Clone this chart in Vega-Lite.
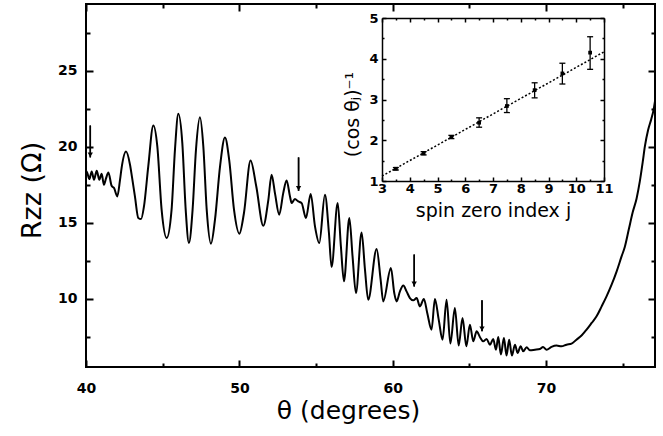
{
  "$schema": "https://vega.github.io/schema/vega-lite/v6.json",
  "width": 569,
  "height": 363,
  "autosize": {"type": "none"},
  "padding": {"left": 86, "top": 4, "right": 8, "bottom": 69},
  "background": "white",
  "config": {
    "view": {"stroke": "black", "strokeWidth": 2},
    "axis": {"grid": false, "domain": false, "tickColor": "black", "labelColor": "black", "titleColor": "black",
      "labelFont": "DejaVu Sans", "titleFont": "DejaVu Sans", "labelFontWeight": "bold", "titleFontWeight": "normal",
      "labelFlush": false, "labelOverlap": false, "labelBound": false}
  },
  "datasets": {
    "curve": [
      {"t":40.0,"r":18.3},{"t":40.04,"r":18.38},{"t":40.22,"r":17.87},{"t":40.37,"r":18.38},{"t":40.52,"r":17.83},{"t":40.7,"r":18.42},{"t":40.87,"r":17.83},{"t":41.02,"r":18.22},{"t":41.17,"r":17.5},{"t":41.3,"r":17.9},{"t":41.46,"r":18.31},{"t":41.67,"r":17.43},{"t":41.83,"r":17.28},{"t":42.04,"r":16.73},{"t":42.22,"r":17.83},{"t":42.32,"r":18.6},{"t":42.61,"r":19.69},{"t":42.87,"r":18.82},{"t":43.0,"r":18.0},{"t":43.19,"r":16.73},{"t":43.41,"r":15.31},{"t":43.59,"r":15.24},{"t":43.78,"r":16.07},{"t":44.06,"r":18.71},{"t":44.39,"r":21.4},{"t":44.65,"r":20.02},{"t":44.93,"r":15.86},{"t":45.26,"r":13.99},{"t":45.58,"r":15.86},{"t":45.8,"r":19.8},{"t":46.02,"r":22.17},{"t":46.28,"r":20.24},{"t":46.5,"r":15.86},{"t":46.71,"r":13.66},{"t":46.95,"r":15.86},{"t":47.17,"r":19.8},{"t":47.43,"r":21.95},{"t":47.65,"r":20.02},{"t":47.87,"r":15.86},{"t":48.15,"r":13.62},{"t":48.41,"r":15.2},{"t":48.74,"r":18.71},{"t":49.06,"r":20.61},{"t":49.34,"r":19.1},{"t":49.65,"r":15.86},{"t":50.0,"r":14.28},{"t":50.3,"r":15.64},{"t":50.73,"r":19.1},{"t":51.1,"r":17.4},{"t":51.56,"r":14.8},{"t":51.89,"r":16.51},{"t":52.1,"r":18.16},{"t":52.32,"r":16.95},{"t":52.6,"r":15.53},{"t":52.86,"r":16.95},{"t":53.08,"r":17.78},{"t":53.3,"r":16.73},{"t":53.41,"r":16.29},{"t":53.62,"r":16.56},{"t":53.84,"r":16.4},{"t":54.06,"r":16.29},{"t":54.34,"r":15.31},{"t":54.65,"r":16.89},{"t":54.93,"r":14.76},{"t":55.21,"r":13.66},{"t":55.58,"r":16.84},{"t":55.84,"r":14.32},{"t":56.01,"r":12.08},{"t":56.41,"r":16.29},{"t":56.62,"r":13.44},{"t":56.82,"r":11.14},{"t":57.17,"r":15.31},{"t":57.38,"r":12.78},{"t":57.6,"r":10.37},{"t":57.97,"r":14.36},{"t":58.19,"r":11.91},{"t":58.4,"r":9.93},{"t":58.95,"r":13.27},{"t":59.21,"r":11.25},{"t":59.38,"r":9.82},{"t":59.88,"r":12.02},{"t":60.1,"r":10.37},{"t":60.25,"r":9.82},{"t":60.47,"r":10.48},{"t":60.69,"r":10.86},{"t":60.9,"r":10.48},{"t":61.12,"r":10.04},{"t":61.34,"r":9.89},{"t":61.56,"r":10.04},{"t":61.77,"r":9.49},{"t":62.03,"r":9.98},{"t":62.25,"r":9.06},{"t":62.53,"r":7.96},{"t":62.75,"r":9.98},{"t":63.0,"r":8.6},{"t":63.25,"r":7.3},{"t":63.51,"r":9.93},{"t":63.76,"r":7.04},{"t":64.05,"r":9.39},{"t":64.3,"r":6.91},{"t":64.55,"r":8.73},{"t":64.8,"r":6.86},{"t":65.03,"r":8.29},{"t":65.25,"r":7.19},{"t":65.47,"r":7.85},{"t":65.68,"r":7.48},{"t":65.9,"r":7.19},{"t":66.12,"r":7.35},{"t":66.34,"r":6.97},{"t":66.55,"r":7.35},{"t":66.73,"r":6.64},{"t":66.88,"r":7.48},{"t":67.05,"r":6.32},{"t":67.25,"r":7.41},{"t":67.42,"r":6.25},{"t":67.59,"r":7.3},{"t":67.77,"r":6.25},{"t":67.97,"r":6.97},{"t":68.14,"r":6.43},{"t":68.34,"r":6.86},{"t":68.51,"r":6.53},{"t":68.73,"r":6.8},{"t":68.94,"r":6.6},{"t":69.27,"r":6.64},{"t":69.6,"r":6.69},{"t":69.8,"r":6.82},{"t":70.03,"r":6.64},{"t":70.35,"r":6.82},{"t":70.68,"r":6.91},{"t":71.0,"r":6.86},{"t":71.33,"r":6.97},{"t":71.66,"r":7.04},{"t":71.98,"r":7.3},{"t":72.31,"r":7.57},{"t":72.64,"r":7.96},{"t":72.97,"r":8.4},{"t":73.29,"r":8.84},{"t":73.62,"r":9.49},{"t":73.94,"r":10.15},{"t":74.27,"r":10.92},{"t":74.6,"r":11.8},{"t":74.92,"r":12.78},{"t":75.13,"r":13.4},{"t":75.4,"r":14.6},{"t":75.65,"r":15.7},{"t":75.9,"r":16.6},{"t":76.11,"r":17.72},{"t":76.3,"r":19.0},{"t":76.44,"r":20.02},{"t":76.65,"r":21.1},{"t":76.85,"r":21.8},{"t":77.0,"r":22.4},{"t":77.1,"r":23.0}
    ],
    "arrows": [
      {"t":40.28,"top":21.4,"tip":19.3},
      {"t":53.86,"top":19.3,"tip":17.1},
      {"t":61.4,"top":12.9,"tip":10.8},
      {"t":65.82,"top":9.9,"tip":7.85}
    ],
    "inset": [
      {"j":3.5,"v":1.3,"lo":1.27,"hi":1.33},
      {"j":4.5,"v":1.68,"lo":1.64,"hi":1.72},
      {"j":5.5,"v":2.08,"lo":2.04,"hi":2.12},
      {"j":6.5,"v":2.43,"lo":2.32,"hi":2.55},
      {"j":7.5,"v":2.84,"lo":2.68,"hi":3.02},
      {"j":8.5,"v":3.23,"lo":3.04,"hi":3.41},
      {"j":9.5,"v":3.64,"lo":3.38,"hi":3.89},
      {"j":10.5,"v":4.15,"lo":3.74,"hi":4.54}
    ],
    "fit": [
      {"j":3,"v":1.12},
      {"j":11,"v":4.17}
    ]
  },
  "layer": [
    {
      "resolve": {"axis": {"x": "independent", "y": "independent"}},
      "layer": [
        {
          "data": {"name": "curve"},
          "mark": {"type": "line", "color": "black", "strokeWidth": 2, "interpolate": "monotone"},
          "encoding": {
            "x": {"field": "t", "type": "quantitative", "scale": {"domain": [40, 77.1], "nice": false, "zero": false},
              "axis": {"orient": "bottom", "values": [40, 50, 60, 70], "tickSize": -7, "tickWidth": 2, "labelPadding": 21, "labelFontSize": 14,
                "title": "θ (degrees)", "titleFontSize": 25, "titleX": 262, "titleY": 51, "titleBaseline": "alphabetic", "titleAlign": "center"}},
            "y": {"field": "r", "type": "quantitative", "scale": {"domain": [5.5, 29.4], "nice": false, "zero": false},
              "axis": {"orient": "left", "values": [10, 15, 20, 25], "tickSize": -7, "tickWidth": 2, "labelPadding": 16, "labelFontSize": 14,
                "title": "Rzz (Ω)", "titleFontSize": 27, "titleX": -46, "titleY": 186, "titleAngle": 270, "titleBaseline": "alphabetic", "titleAlign": "center"}}
          }
        },
        {
          "data": {"name": "arrows"},
          "mark": {"type": "rule", "color": "black", "strokeWidth": 1.5},
          "encoding": {
            "x": {"field": "t", "type": "quantitative", "axis": {"orient": "bottom", "values": [45, 55, 65, 75], "tickSize": -4, "tickWidth": 2, "labels": false, "title": null}},
            "y": {"field": "top", "type": "quantitative", "axis": {"orient": "left", "values": [7.5, 12.5, 17.5, 22.5, 27.5], "tickSize": -4, "tickWidth": 2, "labels": false, "title": null}},
            "y2": {"field": "tip"}
          }
        },
        {
          "data": {"name": "arrows"},
          "mark": {"type": "point", "shape": "triangle-down", "filled": true, "color": "black", "opacity": 1, "size": 28, "yOffset": -2.6},
          "encoding": {
            "x": {"field": "t", "type": "quantitative", "axis": {"orient": "top", "values": [40, 50, 60, 70], "tickSize": -7, "tickWidth": 2, "labels": false, "title": null}},
            "y": {"field": "tip", "type": "quantitative", "axis": {"orient": "right", "values": [10, 15, 20, 25], "tickSize": -7, "tickWidth": 2, "labels": false, "title": null}}
          }
        },
        {
          "data": {"name": "arrows"},
          "mark": {"type": "rule", "color": "black", "strokeWidth": 1.5},
          "encoding": {
            "x": {"field": "t", "type": "quantitative", "axis": {"orient": "top", "values": [45, 55, 65, 75], "tickSize": -4, "tickWidth": 2, "labels": false, "title": null}},
            "y": {"field": "top", "type": "quantitative", "axis": {"orient": "right", "values": [7.5, 12.5, 17.5, 22.5, 27.5], "tickSize": -4, "tickWidth": 2, "labels": false, "title": null}},
            "y2": {"field": "tip"}
          }
        }
      ]
    },
    {
      "resolve": {"axis": {"x": "independent", "y": "independent"}},
      "layer": [
        {
          "data": {"name": "fit"},
          "mark": {"type": "line", "color": "black", "strokeWidth": 1.5, "strokeDash": [2, 2]},
          "encoding": {
            "x": {"field": "j", "type": "quantitative", "scale": {"domain": [3, 11], "range": [296, 518], "nice": false, "zero": false},
              "axis": {"orient": "bottom", "offset": -186, "values": [3, 4, 5, 6, 7, 8, 9, 10, 11], "domain": true, "domainColor": "black", "domainWidth": 1.5, "tickSize": -4, "tickWidth": 1.5, "labelPadding": 5, "labelFontSize": 13,
                "title": "spin zero index j", "titleFontSize": 19, "titleX": 407, "titleY": 35, "titleBaseline": "alphabetic", "titleAlign": "center"}},
            "y": {"field": "v", "type": "quantitative", "scale": {"domain": [1, 5], "range": [177, 14], "nice": false, "zero": false},
              "axis": {"orient": "left", "offset": -296, "values": [1, 2, 3, 4, 5], "domain": true, "domainColor": "black", "domainWidth": 1.5, "tickSize": -4, "tickWidth": 1.5, "labelPadding": 8, "labelFontSize": 13,
                "title": "(cos θⱼ)⁻¹", "titleFontSize": 19, "titleX": -24, "titleY": 110, "titleAngle": 270, "titleBaseline": "alphabetic", "titleAlign": "center"}}
          }
        },
        {
          "data": {"name": "inset"},
          "mark": {"type": "rule", "color": "black", "strokeWidth": 1.3},
          "encoding": {
            "x": {"field": "j", "type": "quantitative", "axis": {"orient": "bottom", "offset": -186, "values": [3.5, 4.5, 5.5, 6.5, 7.5, 8.5, 9.5, 10.5], "tickSize": -2, "tickWidth": 1.5, "labels": false, "title": null}},
            "y": {"field": "lo", "type": "quantitative", "axis": {"orient": "left", "offset": -296, "values": [1.5, 2.5, 3.5, 4.5], "tickSize": -2, "tickWidth": 1.5, "labels": false, "title": null}},
            "y2": {"field": "hi"}
          }
        },
        {
          "data": {"name": "inset"},
          "mark": {"type": "tick", "orient": "horizontal", "color": "black", "size": 6, "thickness": 1.3, "opacity": 1},
          "encoding": {
            "x": {"field": "j", "type": "quantitative", "axis": {"orient": "top", "offset": -14, "values": [3, 4, 5, 6, 7, 8, 9, 10, 11], "domain": true, "domainColor": "black", "domainWidth": 1.5, "tickSize": -4, "tickWidth": 1.5, "labels": false, "title": null}},
            "y": {"field": "lo", "type": "quantitative", "axis": {"orient": "right", "offset": -51, "values": [1, 2, 3, 4, 5], "domain": true, "domainColor": "black", "domainWidth": 1.5, "tickSize": -4, "tickWidth": 1.5, "labels": false, "title": null}}
          }
        },
        {
          "data": {"name": "inset"},
          "mark": {"type": "tick", "orient": "horizontal", "color": "black", "size": 6, "thickness": 1.3, "opacity": 1},
          "encoding": {
            "x": {"field": "j", "type": "quantitative", "axis": {"orient": "top", "offset": -14, "values": [3.5, 4.5, 5.5, 6.5, 7.5, 8.5, 9.5, 10.5], "tickSize": -2, "tickWidth": 1.5, "labels": false, "title": null}},
            "y": {"field": "hi", "type": "quantitative", "axis": {"orient": "right", "offset": -51, "values": [1.5, 2.5, 3.5, 4.5], "tickSize": -2, "tickWidth": 1.5, "labels": false, "title": null}}
          }
        },
        {
          "data": {"name": "inset"},
          "mark": {"type": "point", "shape": "square", "filled": true, "color": "black", "opacity": 1, "size": 14},
          "encoding": {
            "x": {"field": "j", "type": "quantitative", "axis": null},
            "y": {"field": "v", "type": "quantitative", "axis": null}
          }
        }
      ]
    }
  ],
  "resolve": {"scale": {"x": "independent", "y": "independent"}}
}
